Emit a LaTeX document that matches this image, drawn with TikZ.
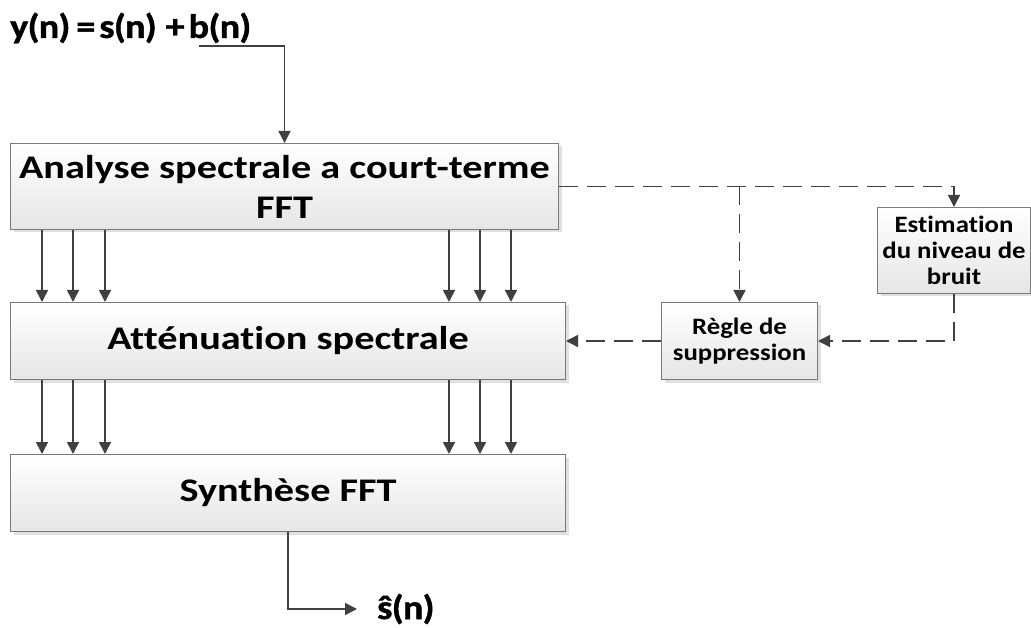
\documentclass[tikz,border=0pt]{standalone}
\usepackage{fontspec}
\setmainfont{Carlito}[RawFeature={-liga}]
\newfontfamily\widefont{Carlito}[FakeStretch=1.22, RawFeature={-liga}]
\newfontfamily\midfont{Carlito}[FakeStretch=1.14, RawFeature={-liga}]
\newfontfamily\eqfont{Carlito}[FakeStretch=1.12, FakeBold=1.2, LetterSpace=-2]
\usetikzlibrary{arrows.meta,shadows}
\definecolor{linegray}{HTML}{404040}
\definecolor{boxborder}{HTML}{7A7A7A}
\begin{document}
\begin{tikzpicture}[x=1pt,y=-1pt,
  blk/.style={draw=boxborder, line width=1pt, top color=white, bottom color=black!10,
    drop shadow={shadow xshift=3pt, shadow yshift=-3pt, fill=black!12, opacity=1},
    align=center, inner sep=0pt, anchor=north west},
  bigtxt/.style={font=\widefont\fontsize{33}{40}\selectfont\bfseries},
  smalltxt/.style={font=\midfont\fontsize{23.5}{26}\selectfont\bfseries},
  sigtxt/.style={anchor=west, inner sep=0pt, font=\eqfont\fontsize{34}{40}\selectfont\bfseries},
  arr/.style={draw=linegray, line width=1.5pt, -{Triangle[length=12pt,width=12pt]}},
  dasharr/.style={arr, dash pattern=on 19pt off 9pt}]
  \useasboundingbox (0,0) rectangle (1031,628);

  % processing chain
  \node[blk, bigtxt, minimum width=548pt, minimum height=86pt] (A) at (10,143)
    {Analyse spectrale a court-terme\\FFT};
  \node[blk, bigtxt, minimum width=555pt, minimum height=77pt] (B) at (10,302)
    {Att\'enuation spectrale};
  \node[blk, bigtxt, minimum width=555pt, minimum height=77pt] (C) at (10,454)
    {Synth\`ese FFT};

  % side branch
  \node[blk, smalltxt, minimum width=156pt, minimum height=77pt] (R) at (661,302)
    {R\`egle de\\suppression};
  \node[blk, smalltxt, minimum width=153pt, minimum height=86pt] (E) at (877,207)
    {Estimation\\du niveau de\\bruit};

  % input and output signals
  \node[sigtxt] (in) at (10,28)
    {y(n)\hspace{6pt}=\hspace{4pt}s(n)\hspace{9pt}+\hspace{4pt}b(n)};
  \coordinate (inStart) at (199,46);
  \draw[arr] (inStart) -| (A.north);

  \coordinate (outEnd) at (357,609);
  \draw[arr] (C.south) |- (outEnd);
  \node[sigtxt] (out) at (377,609) {\^s(n)};

  % parallel frequency channels
  \foreach \dx in {32,63,95,439,470,501} {
    \draw[arr] ([xshift=\dx pt]A.south west) -- ([xshift=\dx pt]B.north west);
    \draw[arr] ([xshift=\dx pt]B.south west) -- ([xshift=\dx pt]C.north west);
  }

  % dashed control paths
  \draw[dasharr] (A.east) -| (E.north);
  \draw[dasharr] (A.east -| R.north) -- (R.north);
  \draw[dasharr] (E.south) |- (R.east);
  \draw[dasharr] (R.west) -- (B.east);
\end{tikzpicture}
\end{document}
